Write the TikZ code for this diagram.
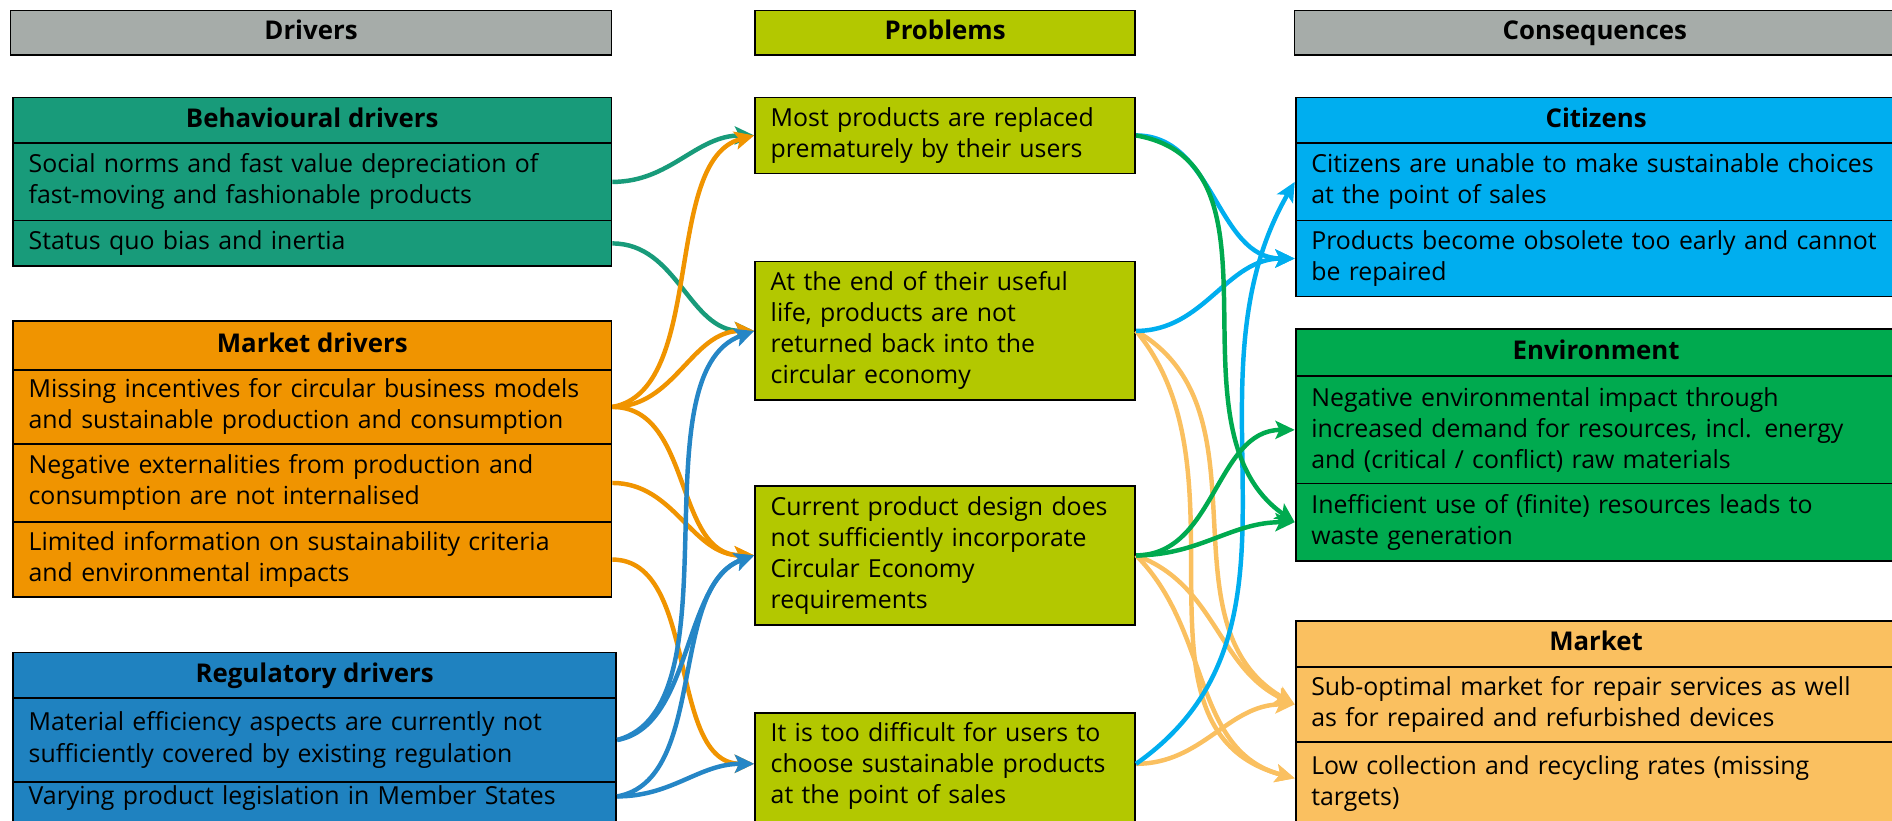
\documentclass[tikz,border=0pt]{standalone}
\usepackage{fontspec}
\setmainfont{Open Sans}
\usetikzlibrary{arrows.meta}
\definecolor{hdrgray}{HTML}{A6ACA9}
\definecolor{probgreen}{HTML}{B3C800}
\definecolor{behteal}{HTML}{189B7A}
\definecolor{mktorange}{HTML}{F09400}
\definecolor{regblue}{HTML}{1F82C0}
\definecolor{linkblue}{HTML}{2586C6}
\definecolor{citcyan}{HTML}{00AEEF}
\definecolor{envgreen}{HTML}{00AA4F}
\definecolor{conorange}{HTML}{FAC060}
\newcommand\txtsize{\fontsize{20.6pt}{25.7pt}\selectfont}
\newcommand\hdsize{\fontsize{21.4pt}{24pt}\selectfont\bfseries}
\begin{document}
\begin{tikzpicture}[x=1pt,y=-1pt,
  base/.style={draw=black, line width=1.5pt, anchor=north west, inner ysep=0pt},
  hd/.style={base, font=\hdsize, align=center, inner xsep=0pt, text height=15.5pt, text depth=4.5pt},
  tx/.style={base, font=\txtsize, align=left, inner xsep=13pt},
  conn/.style={line width=3.7pt, -{Stealth[length=16pt,width=15pt,inset=3.5pt]}}]
\useasboundingbox (0,0) rectangle (1568,680.4);
\clip (0,0) rectangle (1568,680.4);

% column headers
\node[hd, fill=hdrgray, minimum width=498pt, minimum height=37pt] (hD) at (8,8) {Drivers};
\node[hd, fill=probgreen, minimum width=315pt, minimum height=37pt] (hP) at (625,8) {Problems};
\node[hd, fill=hdrgray, minimum width=498pt, minimum height=37pt] (hC) at (1072,8) {Consequences};

% behavioural drivers
\node[hd, fill=behteal, minimum width=496pt, minimum height=38pt] (bh) at (10,80) {Behavioural drivers};
\node[tx, fill=behteal, text width=470pt, minimum height=64pt] (b1) at (10,118) {Social norms and fast value depreciation of\\fast-moving and fashionable products};
\node[tx, fill=behteal, text width=470pt, minimum height=38pt] (b2) at (10,182) {Status quo bias and inertia};

% market drivers
\node[hd, fill=mktorange, minimum width=496pt, minimum height=41pt] (mh) at (10,265) {Market drivers};
\node[tx, fill=mktorange, text width=470pt, minimum height=61pt] (m1) at (10,306) {Missing incentives for circular business models\\and sustainable production and consumption};
\node[tx, fill=mktorange, text width=470pt, minimum height=65pt] (m2) at (10,367) {Negative externalities from production and\\consumption are not internalised};
\node[tx, fill=mktorange, text width=470pt, minimum height=62pt] (m3) at (10,432) {Limited information on sustainability criteria\\and environmental impacts};

% regulatory drivers
\node[hd, fill=regblue, minimum width=500pt, minimum height=38pt] (rh) at (10,540) {Regulatory drivers};
\node[tx, fill=regblue, text width=474pt, minimum height=69pt] (r1) at (10,578) {Material efficiency aspects are currently not\\sufficiently covered by existing regulation};
\node[tx, fill=regblue, text width=474pt, text height=19pt, text depth=40pt] (r2) at (10,647) {Varying product legislation in Member States};

% problems
\node[tx, fill=probgreen, text width=289pt, minimum height=63pt] (P1) at (625,80) {Most products are replaced\\prematurely by their users};
\node[tx, fill=probgreen, text width=289pt, minimum height=115pt] (P2) at (625,216) {At the end of their useful\\life, products are not\\returned back into the\\circular economy};
\node[tx, fill=probgreen, text width=289pt, minimum height=115pt] (P3) at (625,402) {Current product design does\\not sufficiently incorporate\\Circular Economy\\requirements};
\node[tx, fill=probgreen, text width=289pt, text height=24pt, text depth=100pt] (P4) at (625,590) {It is too difficult for users to\\choose sustainable products\\at the point of sales};

% consequences: citizens
\node[hd, fill=citcyan, minimum width=498pt, minimum height=38pt] (ch) at (1073,80) {Citizens};
\node[tx, fill=citcyan, text width=514pt, minimum height=64pt] (c1) at (1073,118) {Citizens are unable to make sustainable choices\\at the point of sales};
\node[tx, fill=citcyan, text width=514pt, minimum height=63pt] (c2) at (1073,182) {Products become obsolete too early and cannot\\be repaired};

% consequences: environment
\node[hd, fill=envgreen, minimum width=498pt, minimum height=39pt] (eh) at (1073,272) {Environment};
\node[tx, fill=envgreen, text width=514pt, minimum height=89pt] (e1) at (1073,311) {Negative environmental impact through\\increased demand for resources, incl. energy\\and (critical / conflict) raw materials};
\node[tx, fill=envgreen, text width=514pt, minimum height=64pt] (e2) at (1073,400) {Inefficient use of (finite) resources leads to\\waste generation};

% consequences: market
\node[hd, fill=conorange, minimum width=498pt, minimum height=38pt] (kh) at (1073,514) {Market};
\node[tx, fill=conorange, text width=514pt, minimum height=62pt] (k1) at (1073,552) {Sub-optimal market for repair services as well\\as for repaired and refurbished devices};
\node[tx, fill=conorange, text width=514pt, text height=27pt, text depth=80pt] (k2) at (1073,614) {Low collection and recycling rates (missing\\targets)};

% connector end points on the cut-off boxes
\coordinate (r2o) at ([yshift=-13pt]r2.north east);
\coordinate (P4i) at ([yshift=-43pt]P4.north west);
\coordinate (P4o) at ([yshift=-43pt]P4.north east);
\coordinate (k2i) at ([yshift=-31pt]k2.north west);

% drivers -> problems
\draw[conn, behteal] (b1.east) to[out=0,in=180] (P1.west);
\draw[conn, behteal] (b2.east) to[out=0,in=180] (P2.west);
\draw[conn, mktorange] (m1.east) to[out=10,in=195,looseness=0.8] (P1.west);
\draw[conn, mktorange] (m1.east) to[out=0,in=180] (P2.west);
\draw[conn, mktorange] (m1.east) to[out=0,in=180] (P3.west);
\draw[conn, mktorange] (m2.east) to[out=0,in=180] (P3.west);
\draw[conn, mktorange] (m3.east) to[out=0,in=180,looseness=0.9] (P4i);
\draw[conn, linkblue] (r1.east) to[out=15,in=200,looseness=0.75] (P2.west);
\draw[conn, linkblue] (r1.east) to[out=10,in=200,looseness=0.85] (P3.west);
\draw[conn, linkblue] (r2o) to[out=10,in=200,looseness=0.85] (P3.west);
\draw[conn, linkblue] (r2o) to[out=0,in=180] (P4i);

% problems -> consequences
\draw[conn, conorange] (P2.east) to[out=-30,in=150] (k1.west);
\draw[conn, conorange] (P2.east) to[out=-50,in=165] (k2i);
\draw[conn, conorange] (P3.east) to[out=-20,in=155] (k1.west);
\draw[conn, conorange] (P3.east) to[out=-45,in=165] (k2i);
\draw[conn, conorange] (P4o) to[out=0,in=180] (k1.west);
\draw[conn, citcyan] (P1.east) to[out=0,in=180] (c2.west);
\draw[conn, citcyan] (P2.east) to[out=0,in=180] (c2.west);
\draw[conn, citcyan] (P4o) to[out=35,in=240] (c1.west);
\draw[conn, envgreen] (P1.east) to[out=-10,in=145] (e2.west);
\draw[conn, envgreen] (P3.east) to[out=0,in=180] (e1.west);
\draw[conn, envgreen] (P3.east) to[out=0,in=180] (e2.west);
\end{tikzpicture}
\end{document}
